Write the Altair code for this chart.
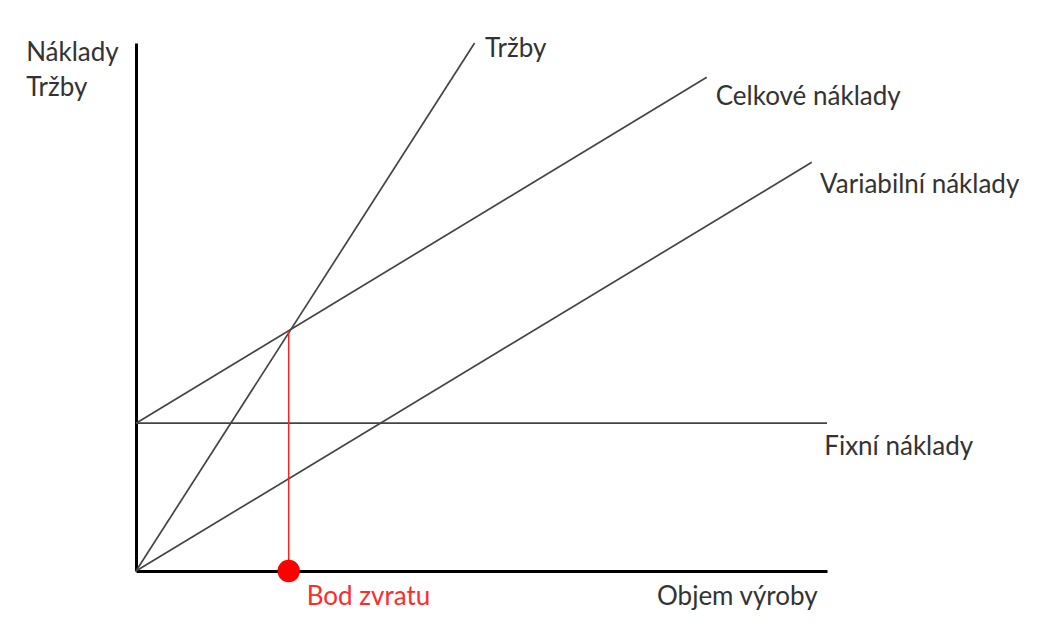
import altair as alt
import pandas as pd

# Lines: series name, start/end points (data units)
series = ["Tržby", "Celkové náklady", "Variabilní náklady", "Fixní náklady"]
x_start = [0, 0, 0, 0]
y_start = [0, 28, 0, 28]
x_end = [49, 82.6, 97.8, 100]
y_end = [100, 93.5, 77.4, 28]

# Break-even point
bep_x = [22.1]
bep_y = [45.5]

# Labels
label_text = ["Náklady", "Tržby", "Tržby", "Celkové náklady", "Variabilní náklady",
              "Fixní náklady", "Objem výroby"]
label_x = [-15.9, -15.9, 50.5, 83.9, 99.0, 99.6, 75.4]
label_y = [98.1, 91.5, 98.9, 89.8, 73.1, 23.5, -4.9]
red_text = ["Bod zvratu"]
red_x = [24.7]
red_y = [-4.9]

rows = []
for s, xs, ys, xe, ye in zip(series, x_start, y_start, x_end, y_end):
    rows.append({"s": s, "x": xs, "y": ys})
    rows.append({"s": s, "x": xe, "y": ye})
lines_df = pd.DataFrame(rows)
bep_df = pd.DataFrame({"x": bep_x, "y": bep_y, "y0": [0] * len(bep_x)})
lab_df = pd.DataFrame({"t": label_text, "x": label_x, "y": label_y})
red_df = pd.DataFrame({"t": red_text, "x": red_x, "y": red_y})

xs = alt.Scale(domain=[0, 100], nice=False, zero=False)
ys = alt.Scale(domain=[0, 100], nice=False, zero=False)
ax = alt.Axis(labels=False, ticks=False, grid=False, title=None, domainColor="#000000", domainWidth=3)

lines = alt.Chart(lines_df).mark_line(color="#444444", strokeWidth=1.7).encode(
    x=alt.X("x:Q", scale=xs, axis=ax),
    y=alt.Y("y:Q", scale=ys, axis=ax),
    detail="s:N",
)

rule = alt.Chart(bep_df).mark_rule(color="#ff2020", strokeWidth=1.5).encode(
    x=alt.X("x:Q", scale=xs), y=alt.Y("y0:Q", scale=ys), y2="y:Q"
)
dot = alt.Chart(bep_df).mark_circle(color="#ff0000", opacity=1, size=500).encode(
    x=alt.X("x:Q", scale=xs), y=alt.Y("y0:Q", scale=ys)
)

labels = alt.Chart(lab_df).mark_text(
    align="left", baseline="middle", font="Lato", fontSize=26, color="#333333"
).encode(x=alt.X("x:Q", scale=xs), y=alt.Y("y:Q", scale=ys), text="t:N")

red_labels = alt.Chart(red_df).mark_text(
    align="left", baseline="middle", font="Lato", fontSize=26, color="#ff2a2a"
).encode(x=alt.X("x:Q", scale=xs), y=alt.Y("y:Q", scale=ys), text="t:N")

chart = alt.layer(lines, rule, dot, labels, red_labels).properties(
    width=691, height=528,
    autosize=alt.AutoSizeParams(type="none"),
    padding={"left": 128, "top": 35, "right": 220, "bottom": 55},
).configure_view(stroke=None)

chart.save("out.html", embed_options={"renderer": "svg", "actions": False})
